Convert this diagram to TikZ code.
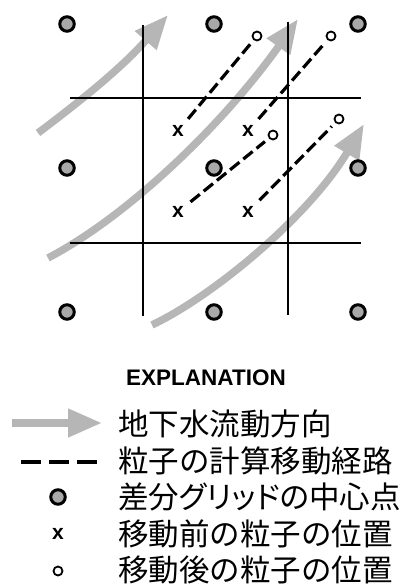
\documentclass[tikz,border=0pt]{standalone}
\usepackage{fontspec}
\setmainfont{Liberation Sans}
\newfontfamily\jpfont{Noto Sans CJK JP}
\usetikzlibrary{arrows.meta}
\definecolor{flowgray}{RGB}{182,182,182}
\definecolor{dotgray}{RGB}{168,168,168}

\begin{document}
\begin{tikzpicture}[x=1pt,y=-1pt,
  flow/.style={line width=7.5pt,flowgray,-{Triangle[length=34pt,width=27pt]}},
  gridline/.style={line width=2.6pt},
  gridpt/.style={circle,draw,line width=3pt,fill=dotgray,minimum size=14.5pt,inner sep=0pt},
  before/.style={font=\bfseries\fontsize{21}{21}\selectfont,inner sep=1pt},
  after/.style={circle,draw,line width=1.8pt,minimum size=9pt,inner sep=0pt},
  track/.style={line width=3.2pt,dash pattern=on 12pt off 5pt,shorten <=7pt,shorten >=5pt},
  legtext/.style={anchor=west,font=\jpfont\fontsize{30.5}{30.5}\selectfont,inner sep=0pt}]
  \useasboundingbox (0,0) rectangle (403,586);

  % groundwater flow
  \draw[flow] (38,133) .. controls (75,105) and (120,70) .. (168,15);
  \draw[flow] (48,258) .. controls (130,215) and (225,122) .. (298,19);
  \draw[flow] (152,325) .. controls (215,295) and (310,215) .. (364,124);

  % model grid
  \draw[gridline] (143,25) -- (143,316);
  \draw[gridline] (288,22) -- (288,315);
  \draw[gridline] (70,98) -- (361,98);
  \draw[gridline] (70,243) -- (361,243);

  % cell centres
  \foreach \i/\x in {1/67,2/214,3/358}
    \foreach \j/\y in {1/24,2/168,3/312}
      \node[gridpt] (g\i\j) at (\x,\y) {};

  % particles
  \node[before] (p1) at (178,131) {x};
  \node[before] (p2) at (248,131) {x};
  \node[before] (p3) at (178,212) {x};
  \node[before] (p4) at (248,212) {x};
  \node[after] (q1) at (257,36) {};
  \node[after] (q2) at (331,36) {};
  \node[after] (q3) at (273,135) {};
  \node[after] (q4) at (339,119) {};
  \foreach \k in {1,...,4}
    \draw[track] (p\k) -- (q\k);

  % explanation
  \node[font=\bfseries\fontsize{22.5}{22.5}\selectfont] (expl) at (206,378) {EXPLANATION};
  \coordinate (ka1) at (12,423);
  \coordinate (ka2) at (102,423);
  \draw[flow] (ka1) -- (ka2);
  \coordinate (kd1) at (21,462);
  \coordinate (kd2) at (97,462);
  \draw[line width=3.2pt,dash pattern=on 20pt off 8pt] (kd1) -- (kd2);
  \node[gridpt] (kdot) at (58,497) {};
  \node[before] (kx) at (58,534) {x};
  \node[after] (ko) at (58,571) {};
  \node[legtext] (t1) at (118,424) {地下水流動方向};
  \node[legtext] (t2) at (118,461) {粒子の計算移動経路};
  \node[legtext] (t3) at (118,497) {\addfontfeatures{RawFeature=+palt}差分グリッドの中心点};
  \node[legtext] (t4) at (118,534) {移動前の粒子の位置};
  \node[legtext] (t5) at (118,570) {移動後の粒子の位置};
\end{tikzpicture}
\end{document}
